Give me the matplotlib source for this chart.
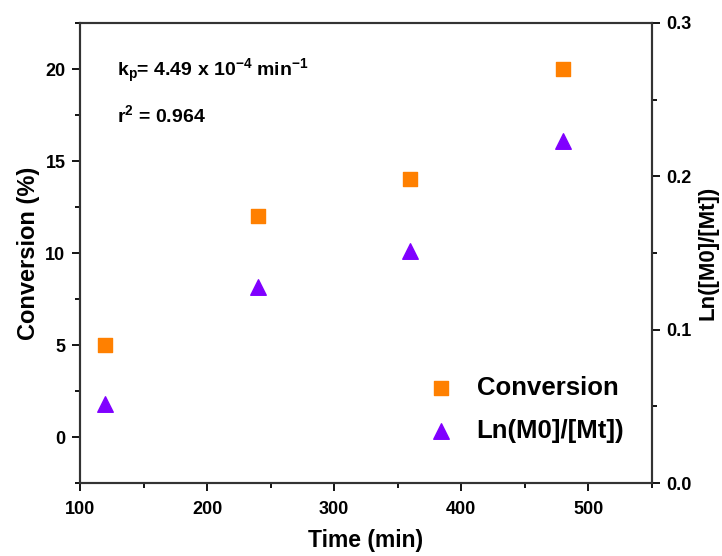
import numpy as np
import matplotlib.pyplot as plt
from matplotlib.ticker import MultipleLocator

plt.rcParams['font.family'] = ['Liberation Sans', 'DejaVu Sans']
plt.rcParams['font.weight'] = 'bold'
plt.rcParams['mathtext.fontset'] = 'custom'
plt.rcParams['mathtext.rm'] = 'Liberation Sans:bold'
plt.rcParams['mathtext.it'] = 'Liberation Sans:bold'
plt.rcParams['mathtext.bf'] = 'Liberation Sans:bold'

time = [120, 240, 360, 480]
conversion = [5, 12, 14, 20]
ln_ratio = [0.0513, 0.128, 0.151, 0.223]

fig = plt.figure(figsize=(7.22, 5.56), dpi=100)
ax = fig.add_axes([80 / 722, 1 - 483 / 556, 572 / 722, 460 / 556])
ax2 = ax.twinx()

sq = ax.scatter(time, conversion, marker='s', s=90, color='#ff8000', zorder=3, label='Conversion')
tri = ax2.scatter(time, ln_ratio, marker='^', s=125, color='#8000ff', zorder=3, label='Ln(M0]/[Mt])')

ax.set_xlim(100, 550)
ax.set_ylim(-2.5, 22.5)
ax2.set_ylim(0, 0.3)

ax.xaxis.set_major_locator(MultipleLocator(100))
ax.xaxis.set_minor_locator(MultipleLocator(50))
ax.yaxis.set_major_locator(MultipleLocator(5))
ax.yaxis.set_minor_locator(MultipleLocator(2.5))
ax2.yaxis.set_major_locator(MultipleLocator(0.1))
ax2.yaxis.set_minor_locator(MultipleLocator(0.05))

for a in (ax, ax2):
    a.tick_params(which='major', direction='out', length=6, width=1.3, labelsize=13, pad=4.5)
    a.tick_params(which='minor', direction='out', length=3.5, width=1.3)
    for sp in a.spines.values():
        sp.set_linewidth(1.5)
        sp.set_color('#333333')
ax.tick_params(axis='x', which='major', pad=7)

ax.set_xlabel('Time (min)', fontsize=16.5, fontweight='bold', labelpad=8)
ax.set_ylabel('Conversion (%)', fontsize=17, fontweight='bold', labelpad=4)
ax2.set_ylabel('Ln([M0]/[Mt])', fontsize=16, fontweight='bold', labelpad=4)

ax.text(129, 19.9, r'k$_\mathregular{p}$= 4.49 x 10$^\mathregular{-4}$ min$^\mathregular{-1}$',
        fontsize=14, fontweight='bold', va='center')
ax.text(129, 17.5, r'r$^\mathregular{2}$ = 0.964', fontsize=14, fontweight='bold', va='center')

ax.legend(handles=[sq, tri], loc='center left', bbox_to_anchor=(0.545, 0.16), frameon=False,
          prop={'size': 18.5, 'weight': 'bold'}, handletextpad=0.4, labelspacing=0.75,
          scatterpoints=1)

fig.savefig('out.png', dpi=100)
